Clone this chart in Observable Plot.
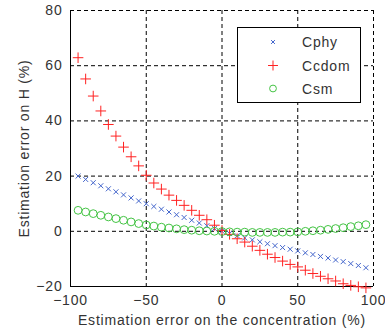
<!DOCTYPE html>
<html><head><meta charset="utf-8">
<script src="https://cdn.jsdelivr.net/npm/d3@7"></script>
<script src="https://cdn.jsdelivr.net/npm/@observablehq/plot@0.6"></script>
<style>
body{margin:0;background:#fff;}
#wrap{position:relative;width:385px;height:332px;}
#legend{position:absolute;left:237px;top:27px;}
svg{font-family:"Liberation Sans",Arial,sans-serif;}
</style></head><body><div id="wrap"></div>
<script>
const concErr = [-95,-90,-85,-80,-75,-70,-65,-60,-55,-50,-45,-40,-35,-30,-25,-20,-15,-10,-5,0,5,10,15,20,25,30,35,40,45,50,55,60,65,70,75,80,85,90,95];
const cphy = [20.0,18.8,17.6,16.5,15.4,14.3,13.2,12.1,11.0,10.0,9.0,8.0,7.0,6.0,5.0,4.0,3.0,2.0,1.0,0.0,-0.8,-1.6,-2.4,-3.1,-3.8,-4.5,-5.2,-5.9,-6.5,-7.1,-7.8,-8.4,-9.1,-9.7,-10.4,-11.0,-11.7,-12.4,-13.2];
const ccdom = [62.9,55.2,49.0,43.6,38.7,34.5,30.5,27.0,23.7,20.3,17.5,15.3,13.1,11.2,9.4,7.6,5.8,4.2,2.2,0.3,-1.1,-2.7,-3.9,-5.4,-6.9,-8.3,-9.5,-10.8,-12.0,-12.9,-14.1,-15.3,-16.3,-17.2,-18.0,-19.0,-19.6,-20.1,-20.5];
const csm = [7.6,7.0,6.4,5.8,5.2,4.6,4.0,3.4,2.8,2.3,1.9,1.5,1.2,0.9,0.6,0.4,0.2,0.1,0.0,-0.1,-0.2,-0.3,-0.3,-0.4,-0.4,-0.4,-0.4,-0.3,-0.3,-0.2,0.0,0.2,0.4,0.7,1.0,1.3,1.7,2.0,2.4];
const xTicks = [-100,-50,0,50,100];
const yTicks = [-20,0,20,40,60,80];
const seriesNames = ["Cphy","Ccdom","Csm"];
const seriesColors = ["#4466cc","#ff2222","#44c444"];
const seriesSymbols = ["times","plus","circle"];
const seriesR = [2.4,3.5,3.9];

const values = [cphy, ccdom, csm];
const marks = [
  Plot.gridX(xTicks.slice(1), {stroke:"black", strokeOpacity:1, strokeDasharray:"4,3"}),
  Plot.gridY(yTicks.slice(1), {stroke:"black", strokeOpacity:1, strokeDasharray:"4,3"}),
  Plot.ruleX([xTicks[0]], {stroke:"black"}),
  Plot.ruleY([yTicks[0]], {stroke:"black"}),
  Plot.axisX(xTicks, {tickSize:0, tickPadding:9, label:"Estimation error on the concentration (%)", labelAnchor:"center", labelArrow:"none", labelOffset:38}),
  Plot.axisY(yTicks, {tickSize:0, tickPadding:8, label:"Estimation error on H (%)", labelAnchor:"center", labelArrow:"none", labelOffset:51})
];
seriesNames.forEach((name, k) => {
  const data = concErr.map((x, i) => ({x, y: values[k][i]}));
  marks.push(Plot.dot(data, {x:"x", y:"y", symbol: seriesSymbols[k], r: seriesR[k], stroke: seriesColors[k], fill:"none", strokeWidth:1}));
});

const chart = Plot.plot({
  width:385, height:332,
  marginLeft:70, marginRight:12, marginTop:10, marginBottom:46,
  x:{domain:[-100,100]},
  y:{domain:[-20,80]},
  style:{fontFamily:'"Liberation Sans",Arial,sans-serif', fontSize:"14px", letterSpacing:"0.8px", color:"#333", background:"white"},
  marks
});
const wrap = document.getElementById("wrap");
wrap.appendChild(chart);

// legend
const lw = 124, lh = 76;
const leg = d3.create("svg").attr("id","legend").attr("width",lw).attr("height",lh)
  .style("font-size","14px").style("letter-spacing","0.8px");
leg.append("rect").attr("x",0.5).attr("y",0.5).attr("width",lw-1).attr("height",lh-1).attr("fill","white").attr("stroke","black");
const rowY = [15, 38.5, 61.5];
const symTypes = {times:d3.symbolTimes, plus:d3.symbolPlus, circle:d3.symbolCircle};
const legSizes = [1.9, 3.3, 3.4];
seriesNames.forEach((name, k) => {
  const g = leg.append("g").attr("transform",`translate(36,${rowY[k]})`);
  g.append("path").attr("d", d3.symbol(symTypes[seriesSymbols[k]], Math.PI*legSizes[k]*legSizes[k])())
    .attr("fill","none").attr("stroke", seriesColors[k]).attr("stroke-width",1);
  leg.append("text").attr("x",65).attr("y",rowY[k]).attr("dy","0.36em").attr("fill","#333").text(name);
});
wrap.appendChild(leg.node());
</script></body></html>
